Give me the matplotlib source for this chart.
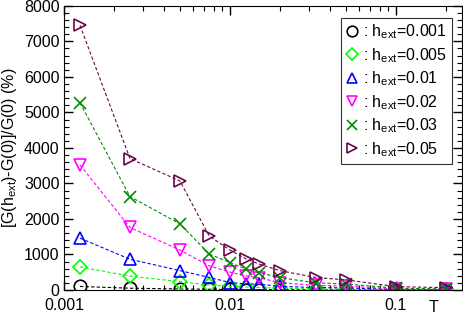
import matplotlib
matplotlib.use("Agg")
import matplotlib.pyplot as plt
from matplotlib.ticker import MultipleLocator, LogLocator, FixedLocator, FixedFormatter, NullFormatter

plt.rcParams['font.family'] = ['Liberation Sans', 'DejaVu Sans']
plt.rcParams['mathtext.default'] = 'regular'

# temperatures
T = [0.00125, 0.0025, 0.005, 0.0075, 0.01, 0.0125, 0.015, 0.02, 0.033, 0.05, 0.1, 0.2]

# relative change (%) for each field value
h_labels = ["0.001", "0.005", "0.01", "0.02", "0.03", "0.05"]
y_h001 = [100, 50, 30, 20, 15, 12, 10, 8, 5, 4, 1, 1]
y_h005 = [650, 390, 235, 140, 100, 80, 70, 50, 30, 25, 8, 5]
y_h01 = [1460, 865, 545, 355, 210, 170, 165, 100, 70, 60, 15, 10]
y_h02 = [3520, 1760, 1125, 680, 505, 395, 345, 205, 130, 110, 30, 20]
y_h03 = [5270, 2630, 1860, 1015, 770, 590, 490, 345, 200, 170, 50, 30]
y_h05 = [7450, 3700, 3070, 1520, 1125, 875, 730, 545, 350, 285, 95, 65]

series = [y_h001, y_h005, y_h01, y_h02, y_h03, y_h05]
colors = ["#000000", "#00ff00", "#0000ff", "#ff00ff", "#008b00", "#670748"]
markers = ["o", "D", "^", "v", "x", ">"]
msizes = [9, 7, 9, 9, 8, 9]

fig = plt.figure(figsize=(4.63, 3.15), dpi=100)
ax = fig.add_axes([0.138, 0.0794, 0.860, 0.902])

for ys, c, m, ms, h in zip(series, colors, markers, msizes, h_labels):
    ax.plot(T, ys, linestyle=(0, (3, 2)), color=c, linewidth=0.8)
    ax.plot(T, ys, linestyle='none', marker=m, markersize=ms,
            markerfacecolor='none', markeredgecolor=c, markeredgewidth=1.2,
            label=r": h$_{ext}$=" + h)

ax.set_xscale('log')
ax.set_xlim(0.001, 0.25)
ax.set_ylim(0, 8000)

ax.xaxis.set_major_locator(FixedLocator([0.001, 0.01, 0.1]))
ax.xaxis.set_major_formatter(FixedFormatter(["0.001", "0.01", "0.1"]))
ax.xaxis.set_minor_locator(LogLocator(base=10, subs=range(2, 10)))
ax.xaxis.set_minor_formatter(NullFormatter())
ax.yaxis.set_major_locator(MultipleLocator(1000))
ax.yaxis.set_minor_locator(MultipleLocator(200))

ax.tick_params(which='both', direction='in', top=True, right=True, labelsize=11.5)
ax.tick_params(which='major', length=6.5, width=1)
ax.tick_params(which='minor', length=3.5, width=0.8)
ax.tick_params(axis='x', which='major', pad=6)
ax.tick_params(axis='y', which='major', pad=3)

ax.set_ylabel("[G(h$_{ext}$)-G(0)]/G(0) (%)", fontsize=11.5, labelpad=4)
ax.set_xlabel("T", fontsize=11.5)
ax.xaxis.set_label_coords(0.927, -0.035)

leg = ax.legend(loc='upper right', bbox_to_anchor=(0.975, 0.958), fontsize=11.5,
                frameon=True, fancybox=False, handlelength=0.8, handletextpad=0.3,
                labelspacing=0.3, borderpad=0.3, borderaxespad=0, markerscale=0.85)
leg.get_frame().set_edgecolor('black')
leg.get_frame().set_linewidth(0.8)

fig.savefig("out.png", dpi=100)
